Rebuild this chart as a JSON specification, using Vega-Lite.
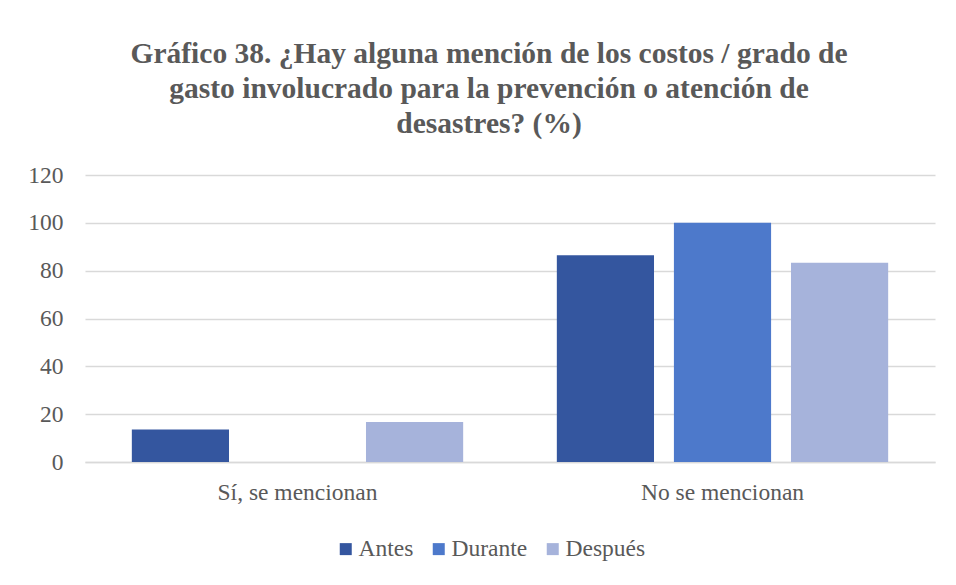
{
  "$schema": "https://vega.github.io/schema/vega-lite/v6.json",
  "width": 850,
  "height": 287,
  "autosize": {"type": "none"},
  "padding": {"left": 85, "top": 175, "right": 21, "bottom": 123},
  "background": "white",
  "title": {
    "text": ["Gráfico 38. ¿Hay alguna mención de los costos / grado de", "gasto involucrado para la prevención o atención de", "desastres? (%)"],
    "font": "Liberation Serif",
    "fontSize": 29.5,
    "fontWeight": "bold",
    "color": "#595959",
    "lineHeight": 35,
    "anchor": "middle",
    "dx": -21,
    "offset": 24
  },
  "data": {
    "values": [
      {"categoria": "Sí, se mencionan", "periodo": "Antes", "valor": 13.6},
      {"categoria": "Sí, se mencionan", "periodo": "Durante", "valor": 0},
      {"categoria": "Sí, se mencionan", "periodo": "Después", "valor": 16.7},
      {"categoria": "No se mencionan", "periodo": "Antes", "valor": 86.4},
      {"categoria": "No se mencionan", "periodo": "Durante", "valor": 100},
      {"categoria": "No se mencionan", "periodo": "Después", "valor": 83.3}
    ]
  },
  "mark": {"type": "bar"},
  "encoding": {
    "x": {
      "field": "categoria",
      "type": "nominal",
      "sort": ["Sí, se mencionan", "No se mencionan"],
      "scale": {"paddingInner": 0, "paddingOuter": 0},
      "axis": {
        "title": null,
        "labelAngle": 0,
        "labelFont": "Liberation Serif",
        "labelFontSize": 23.5,
        "labelColor": "#595959",
        "labelPadding": 18,
        "ticks": false,
        "domainColor": "#D9D9D9",
        "domainWidth": 1.5
      }
    },
    "xOffset": {
      "field": "periodo",
      "type": "nominal",
      "sort": ["Antes", "Durante", "Después"],
      "scale": {"paddingInner": 0.17, "paddingOuter": 0.4}
    },
    "y": {
      "field": "valor",
      "type": "quantitative",
      "scale": {"domain": [0, 120], "nice": false},
      "axis": {
        "title": null,
        "values": [0, 20, 40, 60, 80, 100, 120],
        "labelFont": "Liberation Serif",
        "labelFontSize": 23.5,
        "labelColor": "#595959",
        "labelPadding": 22,
        "ticks": false,
        "domain": false,
        "gridColor": "#D9D9D9",
        "gridWidth": 1.5
      }
    },
    "color": {
      "field": "periodo",
      "type": "nominal",
      "sort": ["Antes", "Durante", "Después"],
      "scale": {"domain": ["Antes", "Durante", "Después"], "range": ["#34569F", "#4D79CB", "#A6B3DB"]},
      "legend": {
        "title": null,
        "orient": "none",
        "legendX": 249,
        "legendY": 362,
        "direction": "horizontal",
        "symbolType": "square",
        "symbolSize": 144,
        "symbolStrokeWidth": 0,
        "labelFont": "Liberation Serif",
        "labelFontSize": 23.5,
        "labelColor": "#595959",
        "labelOffset": 1,
        "columnPadding": 13
      }
    }
  },
  "config": {
    "view": {"stroke": null}
  }
}
